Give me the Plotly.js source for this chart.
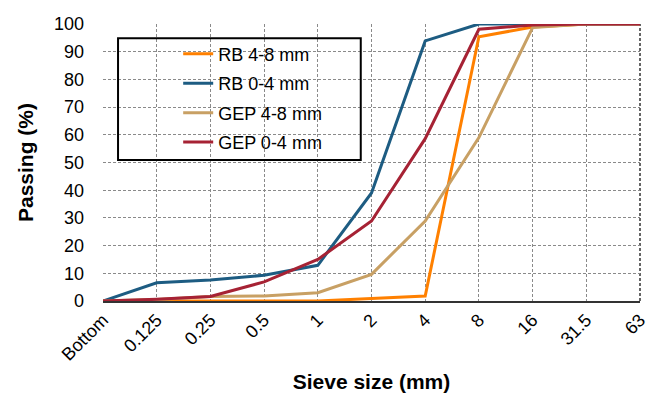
<!DOCTYPE html>
<html>
<head>
<meta charset="utf-8">
<script src="https://cdn.plot.ly/plotly-3.0.1.min.js"></script>
<style>html,body{margin:0;padding:0;background:#fff;}#chart{width:654px;height:393px;}</style>
</head>
<body>
<div id="chart"></div>
<script>
const sieveSizes = ["Bottom", "0.125", "0.25", "0.5", "1", "2", "4", "8", "16", "31.5", "63"];
const rb48 = [0, 0, 0, 0, 0, 0.9, 1.8, 95.4, 98.9, 100, 100];
const rb04 = [0, 6.6, 7.6, 9.3, 12.9, 39, 93.9, 100, 100, 100, 100];
const gep48 = [0, 0.5, 1.6, 1.8, 3, 9.6, 28.9, 59, 98.7, 100, 100];
const gep04 = [0, 0.6, 1.6, 6.9, 15, 28.9, 58.6, 98.1, 99.6, 100, 100];
const seriesNames = ["RB 4-8 mm", "RB 0-4 mm", "GEP 4-8 mm", "GEP 0-4 mm"];
const seriesColors = ["#FF8000", "#1D5C82", "#C8A064", "#A62234"];
const seriesData = [rb48, rb04, gep48, gep04];

const traces = seriesData.map((vals, i) => ({
  type: "scatter",
  mode: "lines",
  x: sieveSizes,
  y: vals,
  name: seriesNames[i],
  legendgroup: "g" + i,
  cliponaxis: false,
  line: {color: seriesColors[i], width: 3}
}));

const wide = "Arial, 'Liberation Sans', sans-serif";
const layout = {
  width: 654, height: 393,
  margin: {l: 103, r: 14, t: 24, b: 92},
  paper_bgcolor: "#fff", plot_bgcolor: "#fff",
  font: {family: wide, color: "#000"},
  showlegend: true,
  legend: {
    x: 0.14, y: 0.958, xanchor: "left", yanchor: "top",
    bgcolor: "rgba(0,0,0,0)", borderwidth: 0,
    traceorder: "grouped", tracegroupgap: 3,
    font: {family: wide, size: 18, color: "#000"}
  },
  xaxis: {
    type: "category",
    range: [0, 10],
    tickangle: -45,
    tickfont: {family: wide, size: 18, color: "#000"},
    showgrid: true, gridcolor: "#8a8a8a", gridwidth: 1, griddash: "3px,2px",
    showline: true, linecolor: "#333", linewidth: 1.5,
    ticks: "", zeroline: false,
    title: {text: "<b>Sieve size (mm)</b>", font: {family: wide, size: 21, color: "#000"}, standoff: 16}
  },
  yaxis: {
    range: [0, 100],
    dtick: 10,
    tickfont: {family: wide, size: 18, color: "#000"},
    showgrid: true, gridcolor: "#8a8a8a", gridwidth: 1, griddash: "3px,2px",
    showline: false, zeroline: false,
    ticks: "", ticklabelstandoff: 18,
    title: {text: "<b>Passing (%)</b>", font: {family: wide, size: 21, color: "#000"}, standoff: 14}
  },
  shapes: [
    {type: "rect", xref: "paper", yref: "paper", x0: 0.028, x1: 0.48, y0: 0.509, y1: 0.949,
     line: {color: "#000", width: 2}, fillcolor: "rgba(0,0,0,0)", layer: "above"},
    {type: "line", xref: "paper", yref: "paper", x0: 1, x1: 1, y0: 0, y1: 1,
     line: {color: "#333", width: 1.5, dash: "3px,2px"}, layer: "below"}
  ]
};

Plotly.newPlot("chart", traces, layout, {displayModeBar: false, staticPlot: true});
</script>
</body>
</html>
